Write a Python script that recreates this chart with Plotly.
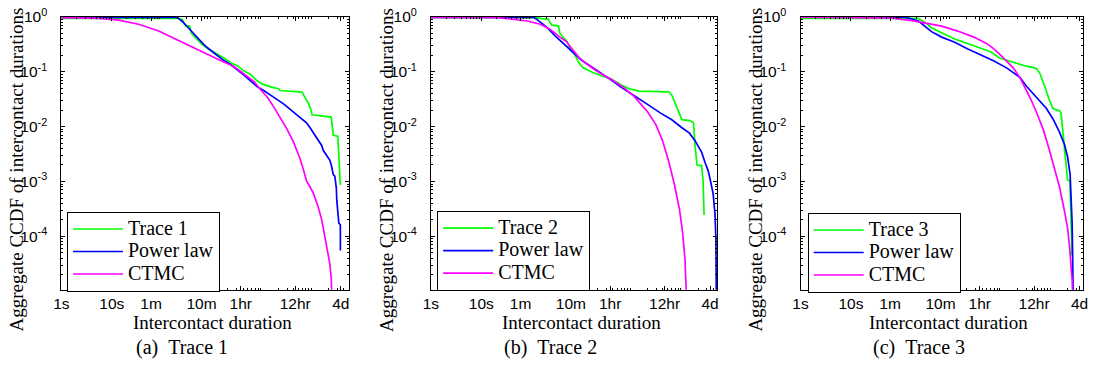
import plotly.graph_objects as go

# ---------------- data ----------------
# x: intercontact duration in seconds, y: aggregate CCDF
p1_trace_dur = [1, 200, 251, 275, 295, 347, 380, 468, 589, 794, 1175, 1698, 2291, 3090, 4169, 5623, 7586, 9550,
                13800, 20420, 21880, 58880, 67610, 79430, 89130, 93330, 223900, 245500, 302000, 316200, 338800]
p1_trace_ccdf = [0.94, 0.933, 0.891, 0.733, 0.684, 0.684, 0.501, 0.398, 0.324, 0.265, 0.216, 0.176, 0.144, 0.129,
                 0.1026, 0.0895, 0.0682, 0.0596, 0.0535, 0.0486, 0.0454, 0.0425, 0.0337, 0.0264, 0.0201, 0.0164,
                 0.0149, 0.00698, 0.00662, 0.00246, 0.000865]
p1_power_dur = [1, 200, 224, 257, 324, 407, 513, 692, 933, 1259, 1698, 2291, 3090, 4169, 5623, 7586, 10230, 13800,
                19050, 25700, 34670, 46770, 63100, 72440, 85110, 97720, 123000, 144500, 154900, 182000, 208900,
                223900, 245500, 263000, 281800, 288400, 302000, 316200, 338800, 340000]
p1_power_ccdf = [0.977, 0.977, 0.891, 0.805, 0.64, 0.508, 0.398, 0.303, 0.241, 0.196, 0.158, 0.134, 0.110, 0.0871,
                 0.0682, 0.0535, 0.0454, 0.0371, 0.031, 0.0257, 0.0207, 0.0164, 0.0134, 0.0117, 0.00955, 0.00778,
                 0.00578, 0.00453, 0.0037, 0.00301, 0.00246, 0.00201, 0.00134, 0.00125, 0.000776, 0.000452,
                 0.000262, 0.000175, 0.000163, 5.52e-5]
p1_ctmc_dur = [1, 5.6, 13.8, 34, 83, 204, 513, 1175, 2690, 4900, 6610, 8910, 12000, 16200, 21900, 29500, 39800,
               53700, 63100, 72400, 97700, 123000, 145000, 166000, 182000, 195000, 209000, 224000, 229000]
p1_ctmc_ccdf = [0.966, 0.933, 0.871, 0.733, 0.558, 0.372, 0.247, 0.174, 0.123, 0.0832, 0.0661, 0.0468, 0.0347,
                0.0229, 0.0148, 0.00912, 0.00525, 0.00263, 0.00162, 0.00102, 0.000631, 0.000347, 0.0002,
                0.000102, 6.76e-5, 5.13e-5, 3.24e-5, 1.74e-5, 8e-6]

p2_trace_dur = [1, 110, 214, 251, 339, 363, 427, 501, 575, 724, 851, 1047, 1660, 2570, 3800, 6310, 8710, 13490,
                52480, 60260, 75860, 95500, 138000, 162200, 173800, 190500, 234400, 251200, 263000]
p2_trace_ccdf = [0.973, 0.966, 0.897, 0.703, 0.684, 0.501, 0.417, 0.355, 0.263, 0.1995, 0.148, 0.1175, 0.0955,
                 0.0839, 0.0733, 0.0558, 0.0488, 0.0444, 0.0431, 0.0372, 0.0231, 0.0134, 0.0129, 0.0117, 0.00453,
                 0.002, 0.00195, 0.00102, 0.000245]
p2_power_dur = [1, 110, 126, 200, 295, 525, 977, 1778, 3236, 5888, 10720, 19500, 35480, 60260, 95500, 134900,
                173800, 204200, 234400, 275400, 316200, 346700, 398100, 431500, 451900, 459200]
p2_power_ccdf = [0.973, 0.973, 0.897, 0.64, 0.447, 0.269, 0.162, 0.112, 0.0782, 0.0525, 0.0372, 0.0257, 0.0178,
                 0.0133, 0.00955, 0.00759, 0.00555, 0.00427, 0.00345, 0.00219, 0.00158, 0.0011, 0.000597,
                 0.000265, 8.9e-5, 8e-6]
p2_ctmc_dur = [1, 20.9, 44.7, 81.3, 148, 234, 363, 490, 661, 891, 1202, 2042, 3802, 6918, 10720, 19500, 28840,
               38900, 52480, 67610, 85110, 97720, 109600, 114800, 117500]
p2_ctmc_ccdf = [0.973, 0.966, 0.897, 0.839, 0.733, 0.589, 0.427, 0.355, 0.247, 0.176, 0.141, 0.1, 0.0724, 0.0501,
                0.0355, 0.0191, 0.011, 0.00575, 0.00229, 0.000891, 0.000316, 0.000126, 3.98e-5, 1.78e-5, 7.9e-6]

p3_trace_dur = [1, 219, 245, 331, 389, 447, 525, 708, 1122, 2042, 3715, 5888, 9120, 14450, 22390, 30200, 40740,
                47860, 55590, 64570, 75160, 87100, 101600, 117500, 137100, 147900, 158500, 171800, 185400, 199500,
                221800, 232300, 239300, 243200]
p3_trace_ccdf = [0.933, 0.933, 0.873, 0.733, 0.64, 0.597, 0.558, 0.488, 0.398, 0.324, 0.265, 0.231, 0.176, 0.154,
                 0.134, 0.126, 0.12, 0.114, 0.0955, 0.0682, 0.0454, 0.0302, 0.0215, 0.0201, 0.0196, 0.0176, 0.00891,
                 0.00395, 0.00175, 0.00107, 0.00102, 0.000344, 8.91e-5, 4.51e-5]
p3_power_dur = [1, 120, 219, 295, 398, 631, 1122, 2042, 3715, 6761, 12300, 22390, 30200, 40740, 56230, 75860,
                102300, 138000, 173800, 199500, 223900, 234400, 245500, 251200, 257000]
p3_power_ccdf = [0.989, 0.986, 0.839, 0.684, 0.537, 0.427, 0.347, 0.263, 0.204, 0.158, 0.1175, 0.0794, 0.055,
                 0.0407, 0.0302, 0.0214, 0.0138, 0.00794, 0.00468, 0.00282, 0.00135, 0.000589, 0.000174, 4.47e-5,
                 8.9e-6]
p3_ctmc_dur = [1, 20, 66.1, 162, 295, 631, 1318, 2754, 5012, 6761, 9120, 12300, 16600, 22390, 28840, 38020, 50120,
               66070, 85110, 109600, 138000, 169800, 199500, 218800, 234400, 245500, 251200]
p3_ctmc_ccdf = [0.986, 0.977, 0.946, 0.851, 0.776, 0.676, 0.55, 0.427, 0.324, 0.263, 0.204, 0.155, 0.1175, 0.0794,
                0.0513, 0.0302, 0.0166, 0.00871, 0.00398, 0.00178, 0.000794, 0.000316, 0.000141, 6.31e-5, 3.16e-5,
                1.58e-5, 8.9e-6]

series_names = ["Power law", "CTMC"]
trace_names = ["Trace 1", "Trace 2", "Trace 3"]
captions = ["(a)\u00a0\u00a0Trace 1", "(b)\u00a0\u00a0Trace 2", "(c)\u00a0\u00a0Trace 3"]

x_tick_vals = [1, 10, 60, 600, 3600, 43200, 345600]
x_tick_text = ["1s", "10s", "1m", "10m", "1hr", "12hr", "4d"]
y_tick_vals = [1, 0.1, 0.01, 0.001, 0.0001]
y_tick_text = ["10<sup>0</sup>", "10<sup>-1</sup>", "10<sup>-2</sup>", "10<sup>-3</sup>", "10<sup>-4</sup>"]

y_title = "Aggregate CCDF of intercontact durations"
x_title = "Intercontact duration"

# ---------------- layout geometry ----------------
# The page body keeps its default 8 px margin, so the figure is sized so that
# margin + figure fills the 1106 x 373 window exactly; positions below are window pixels.
PAGE_MARGIN = 8
W, H = 1106 - PAGE_MARGIN, 373 - PAGE_MARGIN


def fx(px):  # window pixel -> paper x
    return (px - PAGE_MARGIN) / W


def fy(py):  # window pixel -> paper y
    return 1 - (py - PAGE_MARGIN) / H


panels = [  # left, right (window px), log10 of right x limit
    (62, 353, 5.70),
    (436, 726, 5.686),
    (810, 1096, 5.608),
]
plot_top, plot_bottom = 14, 295.3
legend_pos = [(67.7, 215), (442.3, 214), (817.3, 216)]

GREEN, BLUE, MAGENTA = "#00ff00", "#0000ff", "#ff00ff"
SERIF = "Liberation Serif, Times New Roman, serif"
SANS = "Liberation Sans, Arial, Helvetica, sans-serif"


def legend_label(s):
    return '<span style="font-size:20px">' + s + "</span>"


data = [
    (p1_trace_dur, p1_trace_ccdf, p1_power_dur, p1_power_ccdf, p1_ctmc_dur, p1_ctmc_ccdf),
    (p2_trace_dur, p2_trace_ccdf, p2_power_dur, p2_power_ccdf, p2_ctmc_dur, p2_ctmc_ccdf),
    (p3_trace_dur, p3_trace_ccdf, p3_power_dur, p3_power_ccdf, p3_ctmc_dur, p3_ctmc_ccdf),
]

minor_x = [k * 10 ** n for n in range(0, 6) for k in range(2, 10)]
minor_y = [k * 10.0 ** (-n) for n in range(1, 6) for k in range(2, 10)]

fig = go.Figure()
layout = dict(
    width=W, height=H,
    margin=dict(l=0, r=0, t=0, b=0),
    paper_bgcolor="white", plot_bgcolor="white",
    showlegend=True,
    annotations=[],
)

for i, (td, tc, pd, pc, cd, cc) in enumerate(data):
    n = "" if i == 0 else str(i + 1)
    xa, ya = "x" + n, "y" + n
    leg = "legend" + n
    lw = 1.7
    fig.add_trace(go.Scatter(x=td, y=tc, mode="lines", name=legend_label(trace_names[i]),
                             line=dict(color=GREEN, width=lw), xaxis=xa, yaxis=ya, legend=leg))
    fig.add_trace(go.Scatter(x=pd, y=pc, mode="lines", name=legend_label(series_names[0]),
                             line=dict(color=BLUE, width=lw), xaxis=xa, yaxis=ya, legend=leg))
    fig.add_trace(go.Scatter(x=cd, y=cc, mode="lines", name=legend_label(series_names[1]),
                             line=dict(color=MAGENTA, width=lw), xaxis=xa, yaxis=ya, legend=leg))

    left, right, xmax = panels[i]
    common = dict(showline=True, linecolor="black", linewidth=1, mirror="allticks",
                  ticks="inside", ticklen=4, tickwidth=1, tickcolor="black",
                  showgrid=False, zeroline=False, ticklabeloverflow="allow",
                  tickfont=dict(family=SANS, size=15.5, color="black"))
    layout["xaxis" + n] = dict(
        type="log", range=[0, xmax], domain=[fx(left), fx(right)],
        anchor=ya, tickmode="array", tickvals=x_tick_vals, ticktext=x_tick_text,
        minor=dict(ticks="inside", ticklen=2, tickvals=minor_x, tickcolor="black", showgrid=False),
        ticklabelstandoff=0,
        **common)
    layout["yaxis" + n] = dict(
        type="log", range=[-4.97, 0], domain=[fy(plot_bottom), fy(plot_top)],
        anchor=xa, tickmode="array", tickvals=y_tick_vals, ticktext=y_tick_text,
        minor=dict(ticks="inside", ticklen=2, tickvals=minor_y, tickcolor="black", showgrid=False),
        ticklabelstandoff=10,
        **common)
    lx, ly = legend_pos[i]
    layout[leg] = dict(
        x=fx(lx), y=fy(ly), xanchor="left", yanchor="top",
        bgcolor="white", bordercolor="black", borderwidth=1,
        font=dict(family=SERIF, size=15, color="black"),
        itemwidth=50, tracegroupgap=0,
    )
    # axis titles and caption
    layout["annotations"] += [
        dict(text=y_title, xref="paper", yref="paper", x=fx(left - 45), y=fy(171.5),
             textangle=-90, showarrow=False, xanchor="center", yanchor="middle",
             font=dict(family=SERIF, size=19, color="black")),
        dict(text=x_title, xref="paper", yref="paper", x=fx((left + right) / 2 + 7), y=fy(329),
             showarrow=False, xanchor="center", yanchor="middle",
             font=dict(family=SERIF, size=19, color="black")),
        dict(text=captions[i], xref="paper", yref="paper", x=fx((left + right) / 2 - 23.5), y=fy(355),
             showarrow=False, xanchor="center", yanchor="middle",
             font=dict(family=SERIF, size=20, color="black")),
    ]

fig.update_layout(**layout)
fig.write_html("out.html")
